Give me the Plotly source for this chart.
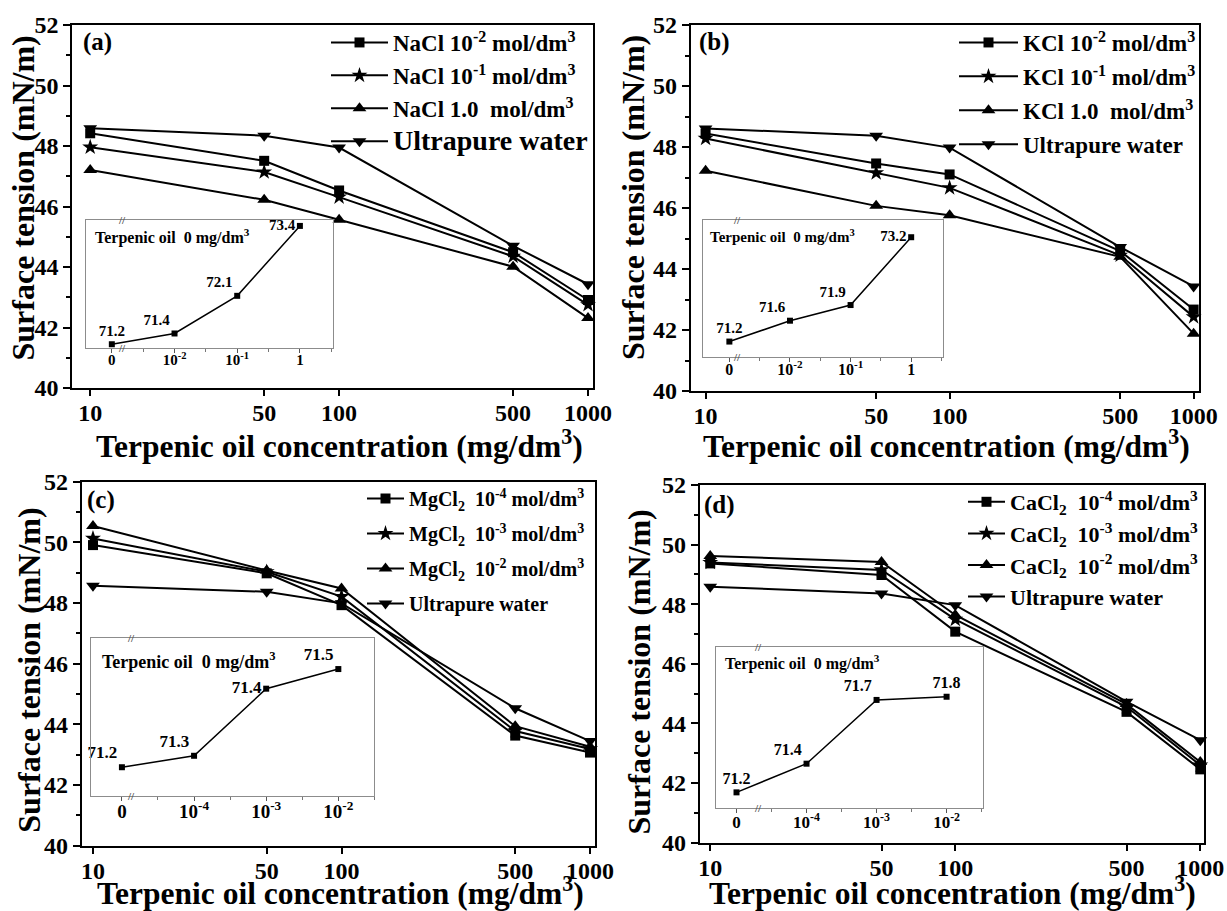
import plotly.graph_objects as go

W, H = 1227, 911
FONT = "Liberation Serif"

# ---------------- data ----------------
conc = [10, 50, 100, 500, 1000]
conc_ticks = ["10", "50", "100", "500", "1000"]

# (a) NaCl
nacl_e2 = [48.42, 47.51, 46.53, 44.49, 42.91]
nacl_e1 = [47.96, 47.14, 46.31, 44.35, 42.75]
nacl_1 = [47.21, 46.22, 45.56, 44.01, 42.31]
water_a = [48.59, 48.34, 47.95, 44.70, 43.43]
# (b) KCl
kcl_e2 = [48.44, 47.46, 47.10, 44.59, 42.67]
kcl_e1 = [48.28, 47.15, 46.66, 44.45, 42.43]
kcl_1 = [47.22, 46.07, 45.76, 44.40, 41.88]
water_b = [48.61, 48.37, 47.98, 44.72, 43.43]
# (c) MgCl2
mgcl_e4 = [49.91, 48.98, 47.93, 43.63, 43.07]
mgcl_e3 = [50.13, 49.03, 48.21, 43.78, 43.19]
mgcl_e2 = [50.54, 49.07, 48.48, 43.94, 43.26]
water_c = [48.57, 48.37, 47.99, 44.53, 43.45]
# (d) CaCl2
cacl_e4 = [49.37, 48.98, 47.08, 44.39, 42.46]
cacl_e3 = [49.40, 49.15, 47.49, 44.56, 42.60]
cacl_e2 = [49.62, 49.42, 47.64, 44.65, 42.71]
water_d = [48.59, 48.36, 47.97, 44.73, 43.44]

# insets (terpenic oil 0 mg/dm3, salt concentration)
inset_pos = [0, 1, 2, 3]
inset_ticks_ab = ["0", "10<sup>-2</sup>", "10<sup>-1</sup>", "1"]
inset_ticks_cd = ["0", "10<sup>-4</sup>", "10<sup>-3</sup>", "10<sup>-2</sup>"]
inset_a = [71.2, 71.4, 72.1, 73.4]
inset_a_lbl = ["71.2", "71.4", "72.1", "73.4"]
inset_b = [71.2, 71.6, 71.9, 73.2]
inset_b_lbl = ["71.2", "71.6", "71.9", "73.2"]
inset_c = [71.2, 71.235, 71.44, 71.5]
inset_c_lbl = ["71.2", "71.3", "71.4", "71.5"]
inset_d = [71.2, 71.38, 71.78, 71.8]
inset_d_lbl = ["71.2", "71.4", "71.7", "71.8"]

SUP = lambda s: "<sup>" + s + "</sup>"
NB = "\u00a0"

def px(x):
    return x / W

def py(y):
    return 1 - y / H

def ax(n, c):
    return c if n == 1 else f"{c}{n}"

def axl(n, c):
    return c + "axis" if n == 1 else f"{c}axis{n}"

# ---------------- geometry (pixels) ----------------
main_box = {1: (72.4, 593, 25, 388), 2: (690.7, 1199, 25, 391),
            3: (81.8, 595, 481.7, 845.7), 4: (699.7, 1204.2, 485, 842.7)}
main_xrange = {1: (0.9285, 3.020), 2: (0.939, 3.022), 3: (0.955, 3.020), 4: (0.957, 3.016)}
inset_box = {5: (85.5, 332.5, 220, 348), 6: (702.7, 943.3, 220, 356.7),
             7: (90.9, 374.4, 638.3, 795.7), 8: (716.2, 983, 646.7, 808.3)}
inset_xrange = {5: (-0.42, 3.52), 6: (-0.44, 3.53), 7: (-0.43, 3.50), 8: (-0.29, 3.52)}
inset_yrange = {5: (71.13, 73.51), 6: (70.91, 73.53), 7: (71.113, 71.594), 8: (71.10, 72.114)}

fig = go.Figure()

# ---------------- main traces ----------------
panels = [
    (1, "legend", [
        (nacl_e2, "NaCl 10" + SUP("-2") + " mol/dm" + SUP("3"), "square", 10),
        (nacl_e1, "NaCl 10" + SUP("-1") + " mol/dm" + SUP("3"), "star", 12),
        (nacl_1, "NaCl 1.0" + NB + " mol/dm" + SUP("3"), "triangle-up", 12),
        (water_a, "<span style='font-size:28px'>Ultrapure water</span>", "triangle-down", 12)]),
    (2, "legend2", [
        (kcl_e2, "KCl 10" + SUP("-2") + " mol/dm" + SUP("3"), "square", 10),
        (kcl_e1, "KCl 10" + SUP("-1") + " mol/dm" + SUP("3"), "star", 12),
        (kcl_1, "KCl 1.0" + NB + " mol/dm" + SUP("3"), "triangle-up", 12),
        (water_b, "Ultrapure water", "triangle-down", 12)]),
    (3, "legend3", [
        (mgcl_e4, "MgCl<sub>2</sub>" + NB + " 10" + SUP("-4") + " mol/dm" + SUP("3"), "square", 10),
        (mgcl_e3, "MgCl<sub>2</sub>" + NB + " 10" + SUP("-3") + " mol/dm" + SUP("3"), "star", 12),
        (mgcl_e2, "MgCl<sub>2</sub>" + NB + " 10" + SUP("-2") + " mol/dm" + SUP("3"), "triangle-up", 12),
        (water_c, "Ultrapure water", "triangle-down", 12)]),
    (4, "legend4", [
        (cacl_e4, "CaCl<sub>2</sub>" + NB + " 10" + SUP("-4") + " mol/dm" + SUP("3"), "square", 10),
        (cacl_e3, "CaCl<sub>2</sub>" + NB + " 10" + SUP("-3") + " mol/dm" + SUP("3"), "star", 12),
        (cacl_e2, "CaCl<sub>2</sub>" + NB + " 10" + SUP("-2") + " mol/dm" + SUP("3"), "triangle-up", 12),
        (water_d, "Ultrapure water", "triangle-down", 12)]),
]

for n, leg, series in panels:
    for i, (vals, name, sym, size) in enumerate(series):
        fig.add_trace(go.Scatter(
            x=conc, y=vals, name=name, mode="lines+markers",
            line=dict(color="black", width=2),
            marker=dict(symbol=sym, size=size, color="black"),
            xaxis=ax(n, "x"), yaxis=ax(n, "y"),
            legend=leg, legendgroup=f"{leg}_{i}", showlegend=True, cliponaxis=False))

# ---------------- inset traces ----------------
insets = [
    (5, inset_a, inset_a_lbl, ["top center", "top left", "top left", "middle left"], 15),
    (6, inset_b, inset_b_lbl, ["top center", "top left", "top left", "middle left"], 15),
    (7, inset_c, inset_c_lbl, ["top left", "top left", "middle left", "top left"], 17),
    (8, inset_d, inset_d_lbl, ["top center", "top left", "top left", "top center"], 16),
]
for n, vals, lbl, tpos, fs in insets:
    fig.add_trace(go.Scatter(
        x=inset_pos, y=vals, mode="lines+markers+text", text=lbl, textposition=tpos,
        textfont=dict(family=FONT, size=fs, color="black", weight="bold"),
        line=dict(color="black", width=1.5),
        marker=dict(symbol="square", size=6, color="black"),
        xaxis=ax(n, "x"), yaxis=ax(n, "y"), showlegend=False, cliponaxis=False))

# ---------------- axes ----------------
layout_axes = {}
for n, (l, r, t, b) in main_box.items():
    layout_axes[axl(n, "x")] = dict(
        type="log", domain=[px(l), px(r)], range=list(main_xrange[n]), anchor=ax(n, "y"),
        tickmode="array", tickvals=conc, ticktext=conc_ticks, automargin=False,
        ticks="outside", ticklen=6, tickwidth=2, tickcolor="black", ticklabelstandoff=-4,
        showline=True, linewidth=2, linecolor="black", mirror=True,
        showgrid=False, zeroline=False,
        tickfont=dict(family=FONT, size=24, color="black", weight="bold"))
    layout_axes[axl(n, "y")] = dict(
        domain=[py(b), py(t)], range=[40, 52], anchor=ax(n, "x"), automargin=False,
        tickmode="linear", tick0=40, dtick=2,
        ticks="outside", ticklen=7, tickwidth=2, tickcolor="black",
        minor=dict(dtick=1, ticks="outside", ticklen=4, tickwidth=1.5, tickcolor="black"),
        showline=True, linewidth=2, linecolor="black", mirror=True,
        showgrid=False, zeroline=False,
        tickfont=dict(family=FONT, size=24, color="black", weight="bold"))

inset_tick_fs = {5: 15, 6: 16, 7: 19, 8: 17}
for n, (l, r, t, b) in inset_box.items():
    layout_axes[axl(n, "x")] = dict(
        domain=[px(l), px(r)], range=list(inset_xrange[n]), anchor=ax(n, "y"), automargin=False,
        tickmode="array", tickvals=inset_pos,
        ticktext=inset_ticks_ab if n in (5, 6) else inset_ticks_cd,
        ticks="outside", ticklen=4, tickwidth=1, tickcolor="#555555", ticklabelstandoff=-6,
        minor=dict(tickmode="linear", tick0=0.5, dtick=1, ticks="outside", ticklen=3,
                   tickwidth=1, tickcolor="#777777"),
        showline=True, linewidth=1, linecolor="#8c8c8c", mirror=True,
        showgrid=False, zeroline=False,
        tickfont=dict(family=FONT, size=inset_tick_fs[n], color="black", weight="bold"))
    layout_axes[axl(n, "y")] = dict(
        domain=[py(b), py(t)], range=list(inset_yrange[n]), anchor=ax(n, "x"), automargin=False,
        showticklabels=False, ticks="",
        showline=True, linewidth=1, linecolor="#8c8c8c", mirror=True,
        showgrid=False, zeroline=False)

# ---------------- annotations ----------------
ann = []
def text(x, y, s, size, xanchor="center", yanchor="middle", angle=0, color="black"):
    ann.append(dict(x=px(x), y=py(y), xref="paper", yref="paper", text=s, showarrow=False,
                    xanchor=xanchor, yanchor=yanchor, textangle=angle,
                    font=dict(family=FONT, size=size, color=color, weight="bold")))

ytitle = "Surface tension (mN/m)"
xtitle = "Terpenic oil concentration (mg/dm" + SUP("3") + ")"
for (yx, yy), (xx, xy) in [((22.5, 198), (339, 444)), ((633, 198), (947, 444)),
                           ((28.7, 670), (340, 891)), ((638.5, 672), (952, 891))]:
    text(yx, yy, ytitle, 32, angle=-90)
    text(xx, xy, xtitle, 31.5)

for (x, y, s) in [(97, 42, "(a)"), (714, 42, "(b)"), (101, 500, "(c)"), (719, 505, "(d)")]:
    text(x, y, s, 25)

inset_title = "Terpenic oil" + NB + " 0 mg/dm" + SUP("3")
for (x, y, fs) in [(93, 236, 16), (708, 236, 15), (100, 660, 18), (723, 662, 16)]:
    text(x, y, inset_title, fs, xanchor="left")

# axis-break marks
for n, bx in [(5, 0.16), (6, 0.12), (7, 0.12), (8, 0.30)]:
    for yv in (0, 1):
        ann.append(dict(x=bx, y=yv, xref=ax(n, "x"), yref=ax(n, "y") + " domain", text="//",
                        showarrow=False, xanchor="center", yanchor="middle",
                        font=dict(family=FONT, size=11, color="#555555")))

# ---------------- legends ----------------
def legend(x, y, size, iw, gap):
    return dict(x=px(x), y=py(y), xref="paper", yref="paper", xanchor="left", yanchor="top",
                bgcolor="rgba(0,0,0,0)", borderwidth=0, itemwidth=iw, tracegroupgap=gap,
                traceorder="grouped",
                font=dict(family=FONT, size=size, color="black", weight="bold"))

fig.update_layout(
    width=W, height=H, margin=dict(l=0, r=0, t=0, b=0, autoexpand=False),
    paper_bgcolor="white", plot_bgcolor="white",
    font=dict(family=FONT, color="black", weight="bold"),
    annotations=ann,
    legend=legend(326, 21, 23, 57, 0),
    legend2=legend(954, 21, 23, 59, 1),
    legend3=legend(362, 479, 20, 37, 6),
    legend4=legend(963, 481, 22, 37, 0),
    **layout_axes)

fig.write_html("out.html", config={"displayModeBar": False},
               post_script="document.body.style.margin='0px';")
